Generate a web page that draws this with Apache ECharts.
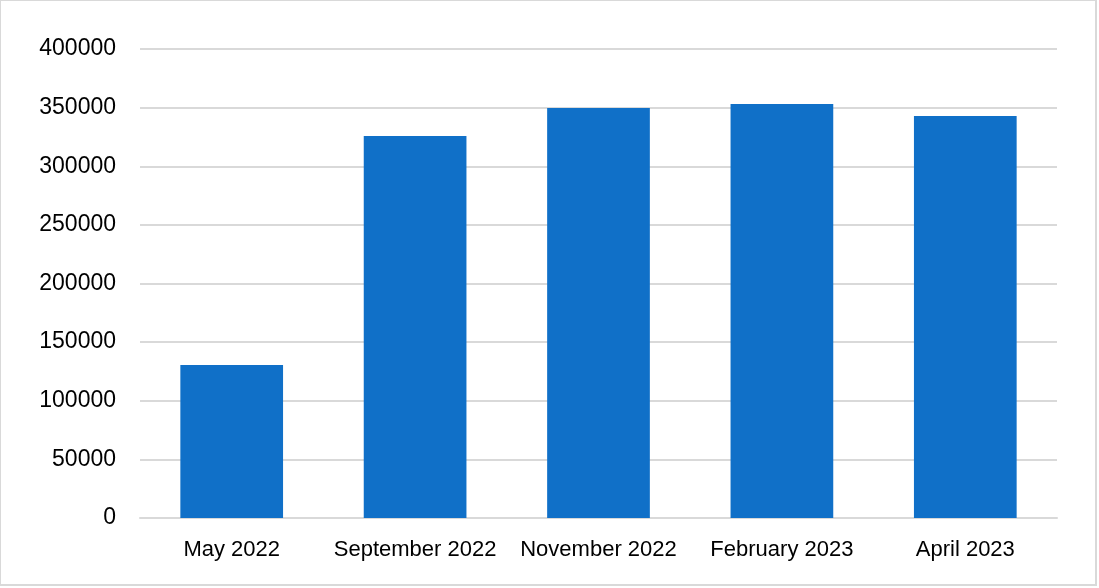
<!DOCTYPE html>
<html>
<head>
<meta charset="utf-8">
<script src="https://cdn.jsdelivr.net/npm/echarts@6/dist/echarts.min.js"></script>
<style>
html,body{margin:0;padding:0;background:#fff;}
#frame{position:absolute;left:0;top:0;width:1094px;height:583px;border:1px solid #d9d9d9;border-right-width:2px;border-bottom-width:2px;}
#chart{position:absolute;left:0;top:0;width:1099px;height:588px;}
</style>
</head>
<body>
<div id="frame"></div>
<div id="chart"></div>
<script>
const categories = ['May 2022', 'September 2022', 'November 2022', 'February 2023', 'April 2023'];
const values = [130400, 325800, 349700, 353100, 342900];
const yTicks = [0, 50000, 100000, 150000, 200000, 250000, 300000, 350000, 400000];

const chart = echarts.init(document.getElementById('chart'), null, {renderer: 'canvas'});
chart.setOption({
  animation: false,
  backgroundColor: 'transparent',
  grid: {left: 140, right: 42, top: 49, bottom: 70, containLabel: false},
  xAxis: {
    type: 'category',
    data: categories,
    axisLine: {show: true, lineStyle: {color: '#d9d9d9', width: 2}},
    axisTick: {show: false},
    axisLabel: {interval: 0, color: '#000', fontFamily: 'Liberation Sans', fontSize: 22, margin: 21}
  },
  yAxis: {
    type: 'value',
    min: yTicks[0],
    max: yTicks[yTicks.length - 1],
    interval: yTicks[1] - yTicks[0],
    axisLine: {show: false},
    axisTick: {show: false},
    splitLine: {lineStyle: {color: '#d9d9d9', width: 2}},
    axisLabel: {color: '#000', fontFamily: 'Liberation Sans', fontSize: 23, margin: 24,
      padding: [4, 0, 0, 0],
      formatter: function (v) { return String(v); }}
  },
  series: [{
    type: 'bar',
    data: values,
    barWidth: '56%',
    itemStyle: {color: '#1070c8'}
  }]
});
</script>
</body>
</html>
